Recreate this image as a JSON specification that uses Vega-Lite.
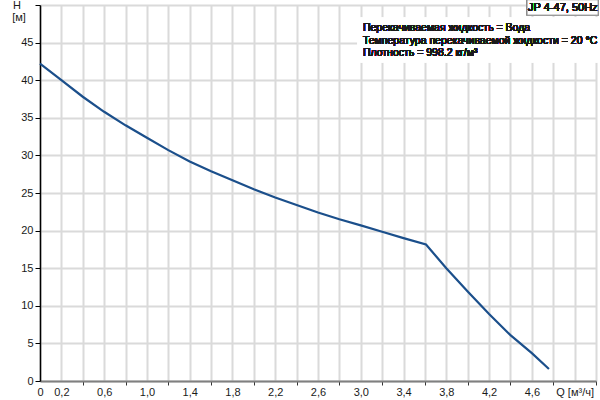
{
  "$schema": "https://vega.github.io/schema/vega-lite/v6.json",
  "width": 556,
  "height": 376,
  "autosize": {"type": "none"},
  "padding": {"left": 40, "top": 5, "right": 4, "bottom": 19},
  "background": "white",
  "config": {"view": {"stroke": null}, "font": "Liberation Sans"},
  "data": {"values": [
    {"Q": 0, "H": 42.2}, {"Q": 0.2, "H": 40.0}, {"Q": 0.4, "H": 37.8}, {"Q": 0.6, "H": 35.8},
    {"Q": 0.8, "H": 34.0}, {"Q": 1.0, "H": 32.35}, {"Q": 1.2, "H": 30.7}, {"Q": 1.4, "H": 29.2},
    {"Q": 1.6, "H": 27.9}, {"Q": 1.8, "H": 26.7}, {"Q": 2.0, "H": 25.5}, {"Q": 2.2, "H": 24.4},
    {"Q": 2.4, "H": 23.4}, {"Q": 2.6, "H": 22.4}, {"Q": 2.8, "H": 21.5}, {"Q": 3.0, "H": 20.7},
    {"Q": 3.2, "H": 19.85}, {"Q": 3.4, "H": 19.0}, {"Q": 3.61, "H": 18.15}, {"Q": 3.8, "H": 15.0},
    {"Q": 4.0, "H": 11.9}, {"Q": 4.2, "H": 8.9}, {"Q": 4.4, "H": 6.1}, {"Q": 4.6, "H": 3.7},
    {"Q": 4.76, "H": 1.6}
  ]},
  "layer": [
    {
      "mark": {"type": "line", "color": "#1b4f8b", "strokeWidth": 2.2},
      "encoding": {
        "x": {
          "field": "Q", "type": "quantitative",
          "scale": {"domain": [0, 5.2], "nice": false, "zero": false},
          "axis": {
            "title": null,
            "tickCount": 200,
            "values": [0,0.2,0.4,0.6,0.8,1.0,1.2,1.4,1.6,1.8,2.0,2.2,2.4,2.6,2.8,3.0,3.2,3.4,3.6,3.8,4.0,4.2,4.4,4.6,4.8,5.0,5.2],
            "labelExpr": "datum.value == 0 ? '0' : (abs(datum.value - 5) < 0.01 ? 'Q [м³/ч]' : (round(datum.value*10) % 4 == 2 ? replace(format(datum.value, '.1f'), '.', ',') : ''))",
            "labelFontSize": 11,
            "labelColor": "#1a1a1a",
            "labelPadding": 1,
            "labelBaseline": "top",
            "labelFlush": false,
            "labelOverlap": false,
            "domainColor": "#808080",
            "domainWidth": 2,
            "tickColor": "#333333",
            "tickSize": 4,
            "tickOpacity": {"condition": {"test": "round(datum.value*10) % 4 == 0 && datum.value > 0", "value": 1}, "value": 0},
            "gridColor": "#dadada",
            "gridWidth": 2
          }
        },
        "y": {
          "field": "H", "type": "quantitative",
          "scale": {"domain": [0, 50], "nice": false, "zero": true},
          "axis": {
            "title": "[м]",
            "titleAngle": 0,
            "titleX": -21.5,
            "titleY": 12,
            "titleAlign": "center",
            "titleBaseline": "middle",
            "titleFontWeight": "normal",
            "titleFontSize": 11,
            "titleColor": "#1a1a1a",
            "tickCount": 200,
            "format": "d",
            "values": [0,5,10,15,20,25,30,35,40,45,50],
            "labelExpr": "datum.value == 50 ? 'H' : datum.label",
            "labelFontSize": 11,
            "labelColor": "#1a1a1a",
            "labelAlign": {"condition": {"test": "datum.value == 50", "value": "center"}, "value": "right"},
            "labelPadding": {"condition": {"test": "datum.value == 50", "value": 18.5}, "value": 2},
            "labelFlush": false,
            "labelOverlap": false,
            "domainColor": "#000000",
            "domainWidth": 1.5,
            "tickColor": "#000000",
            "tickSize": 5,
            "gridColor": "#dadada",
            "gridWidth": 2
          }
        }
      }
    },
    {
      "mark": {"type": "rect", "fill": "white", "stroke": null},
      "encoding": {
        "x": {"datum": 2.97, "type": "quantitative"},
        "x2": {"datum": 5.22},
        "y": {"datum": 48.3, "type": "quantitative"},
        "y2": {"datum": 42.4}
      }
    },
    {
      "mark": {"type": "text", "align": "left", "baseline": "top", "fontSize": 10.5, "lineHeight": 12.7, "color": "#1a1a1a", "font": "Liberation Sans"},
      "encoding": {
        "x": {"datum": 3.02, "type": "quantitative"},
        "y": {"datum": 47.6, "type": "quantitative"},
        "text": {"value": ["Перекачиваемая жидкость = Вода", "Температура перекачиваемой жидкости = 20 °C", "Плотность = 998.2 кг/м³"]}
      }
    },
    {
      "mark": {"type": "rect", "fill": "white", "stroke": "#8c8c8c", "strokeWidth": 1},
      "encoding": {
        "x": {"datum": 4.555, "type": "quantitative"},
        "x2": {"datum": 5.22},
        "y": {"datum": 50.7, "type": "quantitative"},
        "y2": {"datum": 48.65}
      }
    },
    {
      "mark": {"type": "text", "align": "center", "baseline": "middle", "fontSize": 11, "color": "#1a1a1a", "font": "Liberation Sans"},
      "encoding": {
        "x": {"datum": 4.89, "type": "quantitative"},
        "y": {"datum": 49.6, "type": "quantitative"},
        "text": {"value": "JP 4-47, 50Hz"}
      }
    }
  ]
}
